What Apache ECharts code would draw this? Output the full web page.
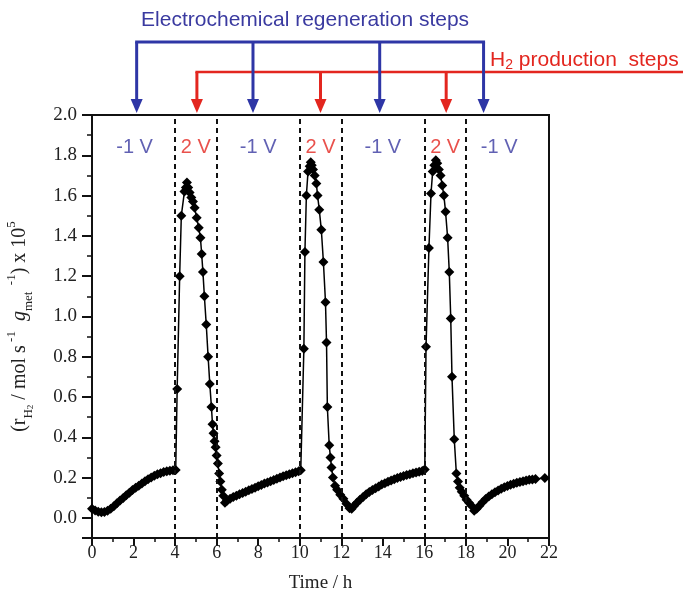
<!DOCTYPE html>
<html lang="en">
<head>
    <meta charset="UTF-8">
    <title>H2 production / regeneration cycles</title>
    <script type="text/javascript" src="https://cdn.jsdelivr.net/npm/echarts@6/dist/echarts.min.js"></script>
    <style>
        html, body { margin: 0; padding: 0; background: #fff; }
    </style>
</head>
<body>
    <div id="main" style="width: 683px; height: 603px;"></div>
    <script type="text/javascript">
        // measured rate (x 10^5 mol s-1 g-1) vs time (h), one array per step
        var run1 = [
            [0.00, 0.045], [0.15, 0.036], [0.30, 0.030], [0.45, 0.028], [0.60, 0.029],
            [0.75, 0.035], [0.90, 0.045], [1.05, 0.058], [1.20, 0.072], [1.35, 0.086],
            [1.50, 0.099], [1.65, 0.112], [1.80, 0.125], [1.95, 0.138], [2.10, 0.150],
            [2.25, 0.160], [2.40, 0.171], [2.55, 0.182], [2.70, 0.192], [2.85, 0.200],
            [3.00, 0.209], [3.15, 0.216], [3.30, 0.222], [3.45, 0.228], [3.60, 0.232],
            [3.75, 0.234], [3.90, 0.236], [4.03, 0.238]
        ];
        var peak1 = [
            [4.10, 0.64], [4.22, 1.20], [4.30, 1.50], [4.45, 1.62], [4.52, 1.64],
            [4.57, 1.665], [4.63, 1.64], [4.70, 1.615], [4.78, 1.59], [4.86, 1.57],
            [4.94, 1.54], [5.04, 1.49], [5.14, 1.44], [5.22, 1.39], [5.28, 1.31],
            [5.34, 1.22], [5.41, 1.10], [5.50, 0.96], [5.59, 0.80], [5.67, 0.665],
            [5.75, 0.55], [5.80, 0.465], [5.85, 0.42], [5.90, 0.38], [5.95, 0.35],
            [6.00, 0.31], [6.06, 0.27], [6.12, 0.22], [6.18, 0.18], [6.25, 0.14],
            [6.32, 0.11]
        ];
        var run2 = [
            [6.40, 0.075], [6.50, 0.085], [6.65, 0.095], [6.80, 0.103], [6.95, 0.110],
            [7.10, 0.117], [7.25, 0.123], [7.40, 0.130], [7.55, 0.137], [7.70, 0.143],
            [7.85, 0.150], [8.00, 0.157], [8.15, 0.163], [8.30, 0.170], [8.45, 0.176],
            [8.60, 0.182], [8.75, 0.188], [8.90, 0.194], [9.05, 0.200], [9.20, 0.206],
            [9.35, 0.211], [9.50, 0.216], [9.65, 0.221], [9.80, 0.226], [9.95, 0.232],
            [10.05, 0.236]
        ];
        var peak2 = [
            [10.20, 0.84], [10.25, 1.32], [10.32, 1.60], [10.40, 1.72], [10.48, 1.745],
            [10.53, 1.765], [10.58, 1.75], [10.64, 1.73], [10.72, 1.70], [10.80, 1.66],
            [10.86, 1.60], [10.94, 1.53], [11.04, 1.43], [11.14, 1.27], [11.24, 1.07],
            [11.29, 0.87], [11.33, 0.55], [11.42, 0.36], [11.48, 0.30], [11.53, 0.25],
            [11.60, 0.20], [11.70, 0.16], [11.80, 0.14], [11.95, 0.115], [12.10, 0.095],
            [12.25, 0.07], [12.40, 0.048]
        ];
        var run3 = [
            [12.50, 0.045], [12.62, 0.060], [12.75, 0.075], [12.90, 0.090], [13.05, 0.104],
            [13.20, 0.117], [13.35, 0.128], [13.50, 0.138], [13.65, 0.147], [13.80, 0.156],
            [13.95, 0.165], [14.10, 0.172], [14.25, 0.179], [14.40, 0.186], [14.55, 0.192],
            [14.70, 0.198], [14.85, 0.203], [15.00, 0.208], [15.15, 0.213], [15.30, 0.217],
            [15.45, 0.221], [15.60, 0.225], [15.75, 0.229], [15.90, 0.233], [16.02, 0.240]
        ];
        var peak3 = [
            [16.08, 0.85], [16.22, 1.34], [16.32, 1.61], [16.40, 1.72], [16.48, 1.75],
            [16.55, 1.775], [16.62, 1.76], [16.70, 1.73], [16.78, 1.70], [16.86, 1.65],
            [16.94, 1.60], [17.02, 1.52], [17.12, 1.39], [17.20, 1.22], [17.27, 0.99],
            [17.33, 0.70], [17.44, 0.39], [17.54, 0.22], [17.62, 0.18], [17.70, 0.15],
            [17.80, 0.13], [17.92, 0.11], [18.03, 0.09], [18.15, 0.075], [18.27, 0.06]
        ];
        var run4 = [
            [18.40, 0.035], [18.52, 0.045], [18.65, 0.060], [18.80, 0.078], [18.95, 0.093],
            [19.10, 0.106], [19.25, 0.117], [19.40, 0.127], [19.55, 0.136], [19.70, 0.145],
            [19.85, 0.152], [20.00, 0.158], [20.15, 0.164], [20.30, 0.169], [20.45, 0.174],
            [20.60, 0.178], [20.75, 0.182], [20.90, 0.186], [21.05, 0.189], [21.20, 0.191],
            [21.35, 0.193], [21.80, 0.198]
        ];

        // potential switch times (dashed lines)
        var switchTimes = [4, 6, 10, 12, 16, 18];
        // potential labels inside the plot
        var stepLabels = ['-1 V', '2 V', '-1 V', '2 V', '-1 V', '2 V', '-1 V'];
        var stepLabelTimes = [2.05, 5.0, 8.0, 11.0, 14.0, 17.0, 19.6];
        var stepLabelLevel = 1.84;
        // arrows above the frame
        var regenArrowTimes = [2.15, 7.75, 13.85, 18.85];
        var prodArrowTimes = [5.05, 11.0, 17.05];

        var BLUE = '#2e36a6';
        var BLUE_TXT = '#3a3aa0';
        var RED = '#e3261f';

        var chartDom = document.getElementById('main');
        var myChart = echarts.init(chartDom);
        var option;

        var allData = run1.concat(peak1, run2, peak2, run3, peak3, run4);

        var serif = '"Liberation Serif", "DejaVu Serif", serif';
        var sans = '"Liberation Sans", Arial, sans-serif';

        option = {
            animation: false,
            grid: {
                left: 92,
                right: 134,
                top: 115,
                bottom: 65,
                outerBoundsMode: 'none',
                containLabel: false,
                show: true,
                borderColor: '#111',
                borderWidth: 2
            },
            xAxis: {
                type: 'value',
                min: 0,
                max: 22,
                interval: 2,
                name: 'Time / h',
                nameLocation: 'middle',
                nameGap: 36,
                nameTextStyle: { fontFamily: serif, fontSize: 19, color: '#222' },
                axisLine: { show: true, onZero: false, lineStyle: { color: '#111', width: 2 } },
                axisTick: { show: true, length: 8, lineStyle: { color: '#111', width: 2 } },
                minorTick: { show: true, splitNumber: 2, length: 4, lineStyle: { color: '#111', width: 1.5 } },
                axisLabel: { fontFamily: serif, fontSize: 18, color: '#222', margin: 6 },
                splitLine: { show: false }
            },
            yAxis: {
                type: 'value',
                min: -0.1,
                max: 2.0,
                splitNumber: 10,
                name: '{n|(r}{s|H}{s2|2}{n| / mol s}{u| -1}{n|  }{i|g}{s|met}{u|  -1}{n|) x 10}{u|5}',
                nameLocation: 'middle',
                nameGap: 57,
                nameTextStyle: {
                    fontFamily: serif,
                    color: '#222',
                    rich: {
                        n: { fontFamily: serif, fontSize: 20, lineHeight: 30, color: '#222' },
                        i: { fontFamily: serif, fontSize: 20, lineHeight: 30, fontStyle: 'italic', color: '#222' },
                        s: { fontFamily: serif, fontSize: 13, lineHeight: 13, verticalAlign: 'bottom', color: '#222' },
                        s2: { fontFamily: serif, fontSize: 9, lineHeight: 9, verticalAlign: 'bottom', color: '#222' },
                        u: { fontFamily: serif, fontSize: 13, lineHeight: 13, verticalAlign: 'top', color: '#222' }
                    }
                },
                axisLine: { show: true, onZero: false, lineStyle: { color: '#111', width: 2 } },
                axisTick: { show: true, length: 10, lineStyle: { color: '#111', width: 2 } },
                minorTick: { show: true, splitNumber: 2, length: 5, lineStyle: { color: '#111', width: 1.5 } },
                axisLabel: {
                    fontFamily: serif,
                    fontSize: 19,
                    color: '#222',
                    margin: 15,
                    formatter: function (v) {
                        return v < -0.01 ? '' : v.toFixed(1);
                    }
                },
                splitLine: { show: false }
            },
            series: [{
                id: 'rate',
                type: 'line',
                data: allData,
                symbol: 'diamond',
                symbolSize: 10,
                showAllSymbol: true,
                itemStyle: { color: '#000' },
                lineStyle: { color: '#000', width: 1.5 },
                z: 3,
                markLine: {
                    silent: true,
                    symbol: ['none', 'none'],
                    label: { show: false },
                    lineStyle: { color: '#111', type: [5, 4], width: 2 },
                    data: switchTimes.map(function (t) { return { xAxis: t }; })
                }
            }, {
                id: 'stepLabels',
                type: 'scatter',
                symbolSize: 0,
                silent: true,
                data: stepLabelTimes.map(function (t, i) {
                    return {
                        value: [t, stepLabelLevel],
                        label: {
                            show: true,
                            position: 'inside',
                            formatter: stepLabels[i],
                            fontFamily: sans,
                            fontSize: 20,
                            color: stepLabels[i] === '2 V' ? RED : BLUE_TXT
                        }
                    };
                })
            }]
        };

        option && myChart.setOption(option);

        // annotation arrows above the plot frame
        function xPx(t) {
            return myChart.convertToPixel({ xAxisIndex: 0 }, t);
        }
        var frameTop = myChart.convertToPixel({ yAxisIndex: 0 }, 2.0);
        var tipY = frameTop - 2;
        var blueY = 42, redY = 72;
        var graphics = [];

        function arrow(x, fromY, color, z) {
            graphics.push({
                type: 'line', z: z,
                shape: { x1: x, y1: fromY, x2: x, y2: tipY - 12 },
                style: { stroke: color, lineWidth: 3 }
            });
            graphics.push({
                type: 'polygon', z: z,
                shape: { points: [[x - 6, tipY - 14], [x + 6, tipY - 14], [x, tipY]] },
                style: { fill: color }
            });
        }

        var rx = prodArrowTimes.map(xPx);
        graphics.push({
            type: 'line', z: 10,
            shape: { x1: rx[0] - 1.5, y1: redY, x2: 683, y2: redY },
            style: { stroke: RED, lineWidth: 2.5 }
        });
        rx.forEach(function (x) { arrow(x, redY, RED, 10); });

        var bx = regenArrowTimes.map(xPx);
        graphics.push({
            type: 'line', z: 20,
            shape: { x1: bx[0] - 1.5, y1: blueY, x2: bx[bx.length - 1] + 1.5, y2: blueY },
            style: { stroke: BLUE, lineWidth: 3 }
        });
        bx.forEach(function (x) { arrow(x, blueY, BLUE, 20); });

        graphics.push({
            type: 'text', z: 20,
            x: (bx[0] + bx[bx.length - 1]) / 2 - 5,
            y: 20,
            style: {
                text: 'Electrochemical regeneration steps',
                fill: BLUE_TXT,
                font: '21px ' + sans,
                align: 'center',
                verticalAlign: 'middle'
            }
        });
        graphics.push({
            type: 'text', z: 20,
            x: 490,
            y: 60,
            style: {
                text: '{n|H}{s|2}{n| production  steps}',
                fill: RED,
                align: 'left',
                verticalAlign: 'middle',
                rich: {
                    n: { fontFamily: sans, fontSize: 21, lineHeight: 24, fill: RED },
                    s: { fontFamily: sans, fontSize: 14, lineHeight: 14, verticalAlign: 'bottom', fill: RED }
                }
            }
        });

        myChart.setOption({ graphic: graphics });
    </script>
</body>
</html>
